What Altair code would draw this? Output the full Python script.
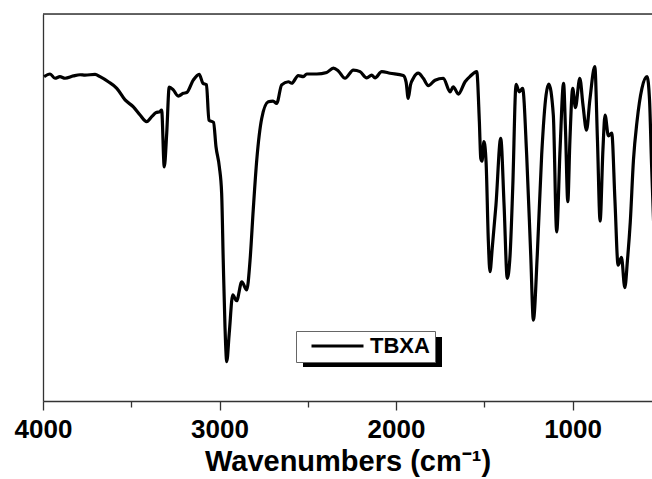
import altair as alt
import pandas as pd

series_name = "TBXA"

wavenumber = [
    3994, 3960, 3932, 3904, 3875, 3828, 3790, 3762, 3705, 3677,
    3630, 3582, 3535, 3488, 3450, 3413, 3384, 3360, 3337, 3328,
    3313, 3299, 3285, 3262, 3234, 3205, 3186, 3149, 3115, 3094,
    3074, 3060, 3034, 3020, 3001, 2988, 2979, 2969, 2959, 2945,
    2925, 2903, 2874, 2846, 2827, 2809, 2789, 2761, 2724, 2697,
    2676, 2648, 2610, 2591, 2554, 2525, 2506, 2449, 2393, 2355,
    2327, 2289, 2242, 2204, 2166, 2138, 2119, 2081, 2034, 1959,
    1943, 1931, 1918, 1902, 1874, 1846, 1817, 1779, 1732, 1694,
    1676, 1647, 1609, 1580, 1543, 1528, 1520, 1513, 1502, 1490,
    1477, 1468, 1455, 1434, 1407, 1388, 1370, 1354, 1339, 1320,
    1302, 1283, 1260, 1237, 1222, 1200, 1175, 1150, 1135, 1109,
    1090, 1071, 1051, 1040, 1027, 1015, 999, 984, 959, 941,
    921, 902, 874, 859, 844, 828, 816, 797, 778, 760,
    742, 723, 704, 689, 673, 655, 635, 607, 578, 564,
    553, 540,
]

transmittance = [
    83.8, 84.5, 83.4, 83.8, 83.4, 84.0, 84.3, 84.2, 84.4, 83.8,
    82.5, 80.8, 77.8, 76.0, 73.9, 72.2, 73.5, 74.5, 74.8, 75.2,
    60.5, 69.3, 81.1, 80.4, 78.8, 79.5, 79.7, 82.9, 84.4, 82.1,
    81.7, 72.6, 72.0, 65.7, 60.5, 53.7, 36.4, 19.2, 10.2, 17.5,
    27.4, 25.9, 30.8, 28.7, 36.4, 49.4, 62.3, 73.0, 77.3, 77.5,
    76.9, 81.7, 82.5, 82.1, 84.1, 83.8, 84.5, 84.5, 84.9, 86.0,
    85.3, 83.4, 85.5, 85.1, 83.5, 84.2, 83.5, 85.1, 84.7, 84.1,
    82.4, 78.2, 81.7, 83.4, 84.7, 83.4, 81.5, 82.9, 83.4, 79.9,
    81.2, 79.3, 82.5, 83.9, 85.1, 72.2, 62.7, 62.0, 67.0, 61.8,
    41.2, 33.4, 39.5, 50.6, 67.9, 50.6, 31.7, 37.7, 55.0, 81.8,
    79.9, 80.8, 63.6, 37.7, 20.9, 37.7, 63.6, 79.1, 81.9, 73.9,
    43.7, 64.9, 82.1, 70.0, 51.5, 67.4, 80.8, 75.8, 83.4, 76.5,
    70.0, 77.8, 86.4, 67.4, 46.5, 64.9, 73.9, 68.5, 69.2, 51.9,
    35.1, 37.1, 29.3, 36.4, 46.3, 62.3, 72.2, 80.8, 83.8, 77.8,
    61.8, 45.0,
]

x_domain = [4000, 550]
tick_values = [4000, 3500, 3000, 2500, 2000, 1500, 1000]

df = pd.DataFrame({"wn": wavenumber, "T": transmittance, "series": series_name})

W, H = 609, 387
FONT = "Liberation Sans"
FRAME = "#333333"

x_axis = alt.Axis(
    values=tick_values,
    format="d",
    labelExpr="datum.value % 1000 === 0 ? datum.label : ''",
    tickSize={"condition": {"test": "datum.value % 1000 === 0", "value": 9}, "value": 6},
    tickColor=FRAME,
    tickWidth=1.3,
    domainColor=FRAME,
    domainWidth=1.3,
    labelFont=FONT,
    labelFontSize=26,
    labelFontWeight="bold",
    labelColor="black",
    labelPadding=6,
    labelOverlap=False,
    labelFlush=False,
    labelBound=False,
    grid=False,
    title="Wavenumbers (cm\u207b\u00b9)",
    titleFont=FONT,
    titleFontSize=29,
    titleFontWeight="bold",
    titleColor="black",
    titlePadding=5,
)

y_axis = alt.Axis(
    ticks=False, labels=False, grid=False, title=None,
    domainColor=FRAME, domainWidth=1.3,
)

line = alt.Chart(df).mark_line(
    strokeWidth=3.2, strokeJoin="round", interpolate="monotone", clip=True
).encode(
    x=alt.X("wn:Q", scale=alt.Scale(domain=x_domain, nice=False, zero=False), axis=x_axis),
    y=alt.Y("T:Q", scale=alt.Scale(domain=[0, 100], nice=False), axis=y_axis),
    color=alt.Color(
        "series:N",
        scale=alt.Scale(domain=[series_name], range=["black"]),
        legend=alt.Legend(
            orient="none",
            legendX=253,
            legendY=317,
            title=None,
            symbolType="stroke",
            symbolSize=2704,
            symbolStrokeWidth=3,
            symbolStrokeColor="black",
            symbolOffset=9,
            clipHeight=20,
            labelFont=FONT,
            labelFontSize=22,
            labelFontWeight="bold",
            labelColor="black",
            labelOffset=5,
            padding=5,
            strokeColor="#666666",
            fillColor="white",
        ),
    ),
)

frame_df = pd.DataFrame({"k": [0]})
top_frame = alt.Chart(frame_df).mark_rule(color=FRAME, strokeWidth=1.3).encode(
    x=alt.value(0), x2=alt.value(W), y=alt.value(0)
)
shadow = alt.Chart(frame_df).mark_rect(color="black").encode(
    x=alt.value(260), x2=alt.value(399), y=alt.value(323), y2=alt.value(353)
)

chart = alt.layer(shadow, line, top_frame).properties(
    width=W,
    height=H,
    autosize=alt.AutoSizeParams(type="none"),
    padding={"left": 43, "top": 14, "right": 0, "bottom": 78},
).configure_view(stroke=None).configure(background="white")

chart.save("out.html", embed_options={"renderer": "svg", "actions": False})
